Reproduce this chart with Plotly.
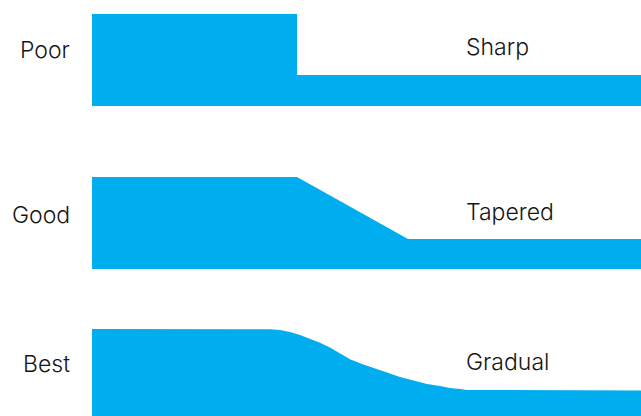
import plotly.graph_objects as go

# Row labels and profile names
quality = ["Poor", "Good", "Best"]
profile_names = ["Sharp", "Tapered", "Gradual"]

# Thickness profiles (distance along the part vs. thickness)
sharp_x = [0, 205, 205, 549]
sharp_t = [92, 92, 31, 31]

tapered_x = [0, 205, 316, 549]
tapered_t = [92, 92, 30, 30]

gradual_x = [0, 168, 178, 188, 198, 208, 218, 228, 238, 248, 258,
             270, 281, 295, 308, 322, 335, 348, 358, 368, 375, 549]
gradual_t = [92, 92, 91.7, 91, 89, 86, 82.5, 78.3, 73.5, 68, 61.7,
             57, 53, 48.5, 44, 40.5, 37, 35, 33, 32, 31, 30.5]

# Baselines of each row
baselines = [310, 147, -5]

COLOR = "#00AEEF"
TEXT = "#151515"
FONT = "Inter, Liberation Sans, Arial, sans-serif"

fig = go.Figure()
profiles = [(sharp_x, sharp_t), (tapered_x, tapered_t), (gradual_x, gradual_t)]
for (xs, ts), base in zip(profiles, baselines):
    px = list(xs) + [xs[-1], xs[0]]
    py = [base + t for t in ts] + [base, base]
    fig.add_trace(go.Scatter(
        x=px, y=py, mode="lines", fill="toself",
        fillcolor=COLOR, line=dict(color=COLOR, width=0),
        hoverinfo="skip", showlegend=False,
    ))

left_label_y = [366, 201, 52]
right_label_y = [369, 204, 54]
for name, yy in zip(quality, left_label_y):
    fig.add_annotation(x=-20, y=yy, text=name, showarrow=False,
                       xanchor="right", yanchor="middle",
                       font=dict(family=FONT, size=23, color=TEXT, weight=300))
for name, yy in zip(profile_names, right_label_y):
    fig.add_annotation(x=372, y=yy, text=name, showarrow=False,
                       xanchor="left", yanchor="middle",
                       font=dict(family=FONT, size=23, color=TEXT, weight=300))

fig.update_layout(
    width=641, height=416,
    margin=dict(l=0, r=0, t=0, b=0),
    paper_bgcolor="white", plot_bgcolor="white",
    xaxis=dict(range=[-92, 549], visible=False, fixedrange=True),
    yaxis=dict(range=[0, 416], visible=False, fixedrange=True),
)

fig.write_html(
    "out.html",
    config={"displayModeBar": False},
    post_script="document.body.style.margin='0';document.body.style.overflow='hidden';",
)
